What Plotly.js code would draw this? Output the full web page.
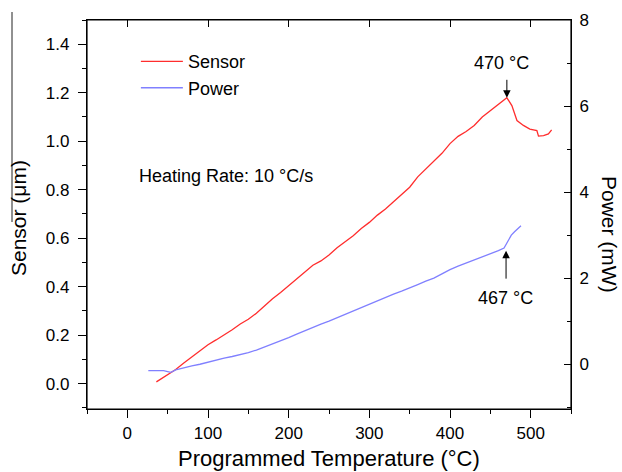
<!DOCTYPE html>
<html>
<head>
<meta charset="utf-8">
<script src="https://cdn.plot.ly/plotly-3.0.1.min.js"></script>
<style>html,body{margin:0;padding:0;background:#fff;}#chart{width:622px;height:472px;}</style>
</head>
<body>
<div id="chart"></div>
<script>
// Sensor (µm) vs programmed temperature (°C)
const sensorTemp = [36, 45, 55, 60, 70, 80, 90, 100, 110, 120, 130, 140, 150, 160, 170, 180, 190, 200, 210, 220, 230, 240, 250, 260, 270, 280, 290, 300, 310, 320, 330, 340, 350, 360, 370, 380, 390, 400, 410, 420, 430, 440, 450, 460, 466, 470.5, 476.7, 483, 491, 499, 507.7, 509.7, 516, 522, 526];
const sensorValues = [0.007, 0.025, 0.046, 0.058, 0.085, 0.11, 0.134, 0.16, 0.18, 0.2, 0.222, 0.246, 0.265, 0.29, 0.322, 0.35, 0.376, 0.405, 0.43, 0.46, 0.488, 0.506, 0.53, 0.56, 0.584, 0.61, 0.64, 0.665, 0.695, 0.72, 0.75, 0.78, 0.81, 0.853, 0.885, 0.915, 0.95, 0.99, 1.02, 1.04, 1.065, 1.1, 1.125, 1.15, 1.165, 1.179, 1.147, 1.085, 1.065, 1.05, 1.044, 1.021, 1.023, 1.03, 1.047];
// Power (mW) vs programmed temperature (°C)
const powerTemp = [26, 35, 45, 50, 54, 60, 70, 80, 90, 100, 110, 120, 130, 140, 150, 160, 170, 180, 190, 200, 210, 220, 230, 240, 250, 260, 270, 280, 290, 300, 310, 320, 330, 340, 350, 360, 370, 380, 390, 400, 410, 420, 430, 440, 450, 460, 467, 472, 476, 480, 488];
const powerValues = [-0.15, -0.15, -0.15, -0.17, -0.19, -0.13, -0.08, -0.04, 0.0, 0.05, 0.1, 0.14, 0.18, 0.22, 0.27, 0.33, 0.4, 0.47, 0.55, 0.62, 0.7, 0.78, 0.86, 0.93, 1.0, 1.08, 1.16, 1.24, 1.32, 1.4, 1.47, 1.55, 1.63, 1.7, 1.77, 1.85, 1.93, 2.0, 2.1, 2.2, 2.28, 2.35, 2.42, 2.5, 2.57, 2.64, 2.7, 2.85, 3.0, 3.08, 3.22];
const seriesNames = ["Sensor", "Power"];
const xTitle = "Programmed Temperature (°C)";
const yTitle = "Sensor (μm)";
const y2Title = "Power (mW)";
const noteText = "Heating Rate: 10 °C/s";
const peakLabels = ["470 °C", "467 °C"];

const FONT = "Liberation Sans, Arial, sans-serif";
const traces = [
  {x: sensorTemp, y: sensorValues, name: seriesNames[0], type: "scatter", mode: "lines",
   line: {color: "rgb(255,45,45)", width: 1.3}, xaxis: "x", yaxis: "y", legend: "legend"},
  {x: powerTemp, y: powerValues, name: seriesNames[1], type: "scatter", mode: "lines",
   line: {color: "rgb(128,128,255)", width: 1.3}, xaxis: "x2", yaxis: "y2", legend: "legend2"}
];

const axisCommon = {showgrid: false, zeroline: false, showline: true, linecolor: "#000", linewidth: 1.2,
  tickcolor: "#000", tickfont: {family: FONT, size: 17, color: "#000"}};

const layout = {
  width: 622, height: 472,
  margin: {l: 87, r: 51, t: 20, b: 63},
  paper_bgcolor: "#fff", plot_bgcolor: "#fff",
  font: {family: FONT, color: "#000"},
  xaxis: Object.assign({}, axisCommon, {range: [-50, 550], dtick: 100, tick0: 0, ticks: "outside", ticklen: 8,
    ticklabelstandoff: 0,
    minor: {dtick: 50, tick0: 0, ticks: "outside", ticklen: 4, tickcolor: "#000"}}),
  xaxis2: Object.assign({}, axisCommon, {range: [-50, 550], dtick: 100, tick0: 0, ticks: "inside", ticklen: 7,
    overlaying: "x", side: "top", anchor: "y2", showticklabels: false}),
  yaxis: Object.assign({}, axisCommon, {range: [-0.105, 1.5], dtick: 0.2, tick0: 0, tickformat: ".1f", ticks: "outside", ticklen: 8,
    ticklabelstandoff: 5,
    minor: {dtick: 0.1, tick0: 0, ticks: "outside", ticklen: 4, tickcolor: "#000"}}),
  yaxis2: Object.assign({}, axisCommon, {range: [-1.04, 8], dtick: 2, tick0: 0, ticks: "inside", ticklen: 7,
    overlaying: "y", side: "right", anchor: "x2", ticklabelstandoff: 4,
    minor: {dtick: 1, tick0: 0, ticks: "inside", ticklen: 4, tickcolor: "#000"}}),
  legend: {x: 0.101, y: 0.893, xanchor: "left", yanchor: "middle", bgcolor: "rgba(0,0,0,0)", itemwidth: 42,
    font: {family: FONT, size: 18, color: "#000"}},
  legend2: {x: 0.101, y: 0.825, xanchor: "left", yanchor: "middle", bgcolor: "rgba(0,0,0,0)", itemwidth: 42,
    font: {family: FONT, size: 18, color: "#000"}},
  showlegend: true,
  annotations: [
    {text: xTitle, xref: "paper", yref: "paper", x: 0.5, y: (409 - 458.5) / 389, xanchor: "center", yanchor: "middle",
     showarrow: false, font: {family: FONT, size: 22, color: "#000"}},
    {text: yTitle, xref: "paper", yref: "paper", x: (19 - 87) / 484, y: (409 - 218) / 389, xanchor: "center", yanchor: "middle",
     textangle: -90, showarrow: false, font: {family: FONT, size: 21, color: "#000"}},
    {text: y2Title, xref: "paper", yref: "paper", x: (610 - 87) / 484, y: (409 - 234) / 389, xanchor: "center", yanchor: "middle",
     textangle: 90, showarrow: false, font: {family: FONT, size: 21, color: "#000"}},
    {text: noteText, xref: "paper", yref: "paper", x: (137 - 87) / 484, y: (409 - 176) / 389, xanchor: "left", yanchor: "middle",
     showarrow: false, font: {family: FONT, size: 18, color: "#000"}},
    {text: peakLabels[0], xref: "paper", yref: "paper", x: (501.5 - 87) / 484, y: (409 - 63.3) / 389, xanchor: "center", yanchor: "middle",
     showarrow: false, font: {family: FONT, size: 18, color: "#000"}},
    {text: " ", x: 470.5, y: 1.179, xref: "x", yref: "y", showarrow: true, ax: 0, ay: -20,
     arrowhead: 2, arrowsize: 1.5, arrowwidth: 1, arrowcolor: "#000", font: {size: 1}},
    {text: peakLabels[1], xref: "paper", yref: "paper", x: (505 - 87) / 484, y: (409 - 298.3) / 389, xanchor: "center", yanchor: "middle",
     showarrow: false, font: {family: FONT, size: 18, color: "#000"}},
    {text: " ", x: 469.5, y: 2.64, xref: "x", yref: "y2", showarrow: true, ax: 0, ay: 30,
     arrowhead: 2, arrowsize: 1.5, arrowwidth: 1, arrowcolor: "#000", font: {size: 1}}
  ],
  shapes: [
    {type: "rect", xref: "paper", yref: "paper", x0: 0, x1: 1, y0: 0, y1: 1, layer: "above",
     line: {color: "#000", width: 1.2}, fillcolor: "rgba(0,0,0,0)"},
    {type: "line", xref: "paper", yref: "paper", x0: (12 - 87) / 484, x1: (12 - 87) / 484,
     y0: (409 - 12) / 389, y1: (409 - 222) / 389, line: {color: "#222", width: 1}}
  ]
};

Plotly.newPlot("chart", traces, layout, {displayModeBar: false, staticPlot: true});
</script>
</body>
</html>
